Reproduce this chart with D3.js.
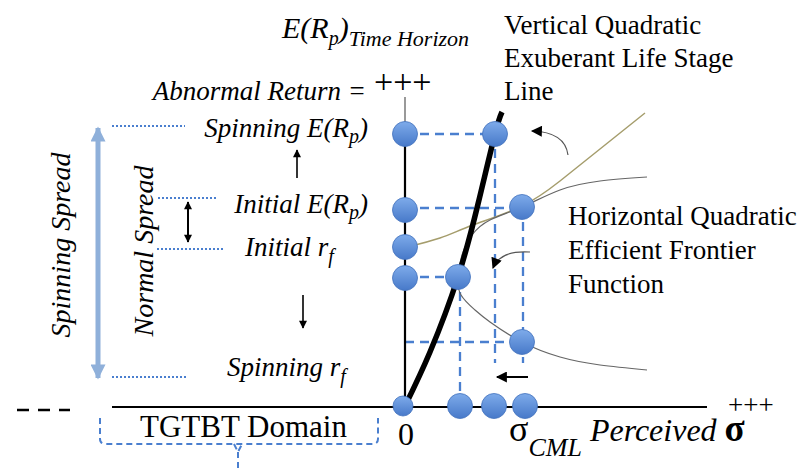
<!DOCTYPE html>
<html>
<head>
<meta charset="utf-8">
<script src="https://cdn.jsdelivr.net/npm/d3@7"></script>
<style>
  body { margin: 0; background: #fff; }
</style>
</head>
<body>
<div id="chart"></div>
<script>
// values; 1 unit = 10px, origin at the axes crossing
const axisPoints = [[0, 27.4], [0, 19.8], [0, 16.1], [0, 13.0]];
const curvePoints = [[9.0, 27.4], [11.7, 20.1], [5.3, 13.1], [11.7, 6.6]];
const sigmaPoints = [5.5, 8.9, 12.0];
const originPoint = [-0.2, 0.2];

const lifeStageLine = [[0, 0.2], [2.5, 5.6], [5.3, 13.1], [7.3, 20.4], [9.0, 27.4], [9.7, 29.6]];
const oliveFrontier = [[0.2, 16.1], [3.5, 17.0], [6.8, 18.3], [11.7, 20.2], [15.5, 22.7], [19.5, 25.9], [24.0, 29.5]];
const frontierUpper = [[24.2, 23.1], [19.5, 22.7], [15.5, 21.8], [11.7, 20.1], [8.5, 18.8], [6.7, 17.3], [5.7, 15.3], [5.3, 13.1]];
const frontierLower = [[5.3, 13.1], [5.6, 11.3], [7.0, 9.8], [8.5, 8.6], [11.7, 6.6], [15.5, 5.1], [19.5, 4.3], [24.2, 3.8]];

const guideLines = [
  [[0, 27.4], [9.0, 27.4]],
  [[9.0, 27.4], [9.0, 4.5]],
  [[0, 20.0], [11.7, 20.0]],
  [[11.8, 18.6], [11.8, 4.5]],
  [[0, 13.1], [5.3, 13.1]],
  [[5.5, 13.1], [5.5, 1.2]],
  [[0, 6.6], [11.7, 6.6]]
];
const dottedLines = [
  [[-29.3, 28.2], [-22.0, 28.2]],
  [[-24.7, 21.0], [-18.7, 21.0]],
  [[-24.8, 15.9], [-18.1, 15.9]],
  [[-29.3, 3.1], [-21.8, 3.1]]
];
const curvedArrows = [
  [[16.3, 25.3], [16.0, 27.6], [12.7, 27.7]],
  [[12.5, 15.6], [9.5, 15.8], [8.8, 14.0]]
];
const straightArrows = [
  [[12.3, 3.1], [9.2, 3.1]],
  [[-10.8, 23.0], [-10.8, 25.8]],
  [[-10.2, 11.3], [-10.2, 8.0]]
];
const normalSpread = [[-21.7, 20.6], [-21.7, 16.6]];
const spinningSpread = [[-30.7, 28.0], [-30.7, 3.0]];
const braceLeft = -30.5, braceRight = -2.7, braceMid = -16.7;

const width = 810, height = 470;
const x = d3.scaleLinear().domain([0, 30]).range([405, 705]);
const y = d3.scaleLinear().domain([0, 30]).range([408, 108]);

const svg = d3.select("#chart").append("svg").attr("width", width).attr("height", height);
const defs = svg.append("defs");

const grad = defs.append("linearGradient").attr("id", "ball").attr("x1", 0).attr("y1", 0).attr("x2", 0).attr("y2", 1);
grad.append("stop").attr("offset", "0%").attr("stop-color", "#7eabea");
grad.append("stop").attr("offset", "100%").attr("stop-color", "#4779c9");

function marker(id, color, w, h) {
  defs.append("marker")
    .attr("id", id)
    .attr("viewBox", "0 0 10 10")
    .attr("refX", 9).attr("refY", 5)
    .attr("markerUnits", "userSpaceOnUse")
    .attr("markerWidth", w).attr("markerHeight", h)
    .attr("orient", "auto-start-reverse")
    .append("path").attr("d", "M0,0 L10,5 L0,10 z").attr("fill", color);
}
marker("head", "#000", 14, 11);
marker("small", "#000", 9, 8);
marker("blue", "#8fb0da", 16, 15);

const line = d3.line().x(d => x(d[0])).y(d => y(d[1]));
const smooth = d3.line().x(d => x(d[0])).y(d => y(d[1])).curve(d3.curveNatural);

// blue dashed guides
svg.append("g").selectAll("path").data(guideLines).join("path")
  .attr("d", line)
  .attr("fill", "none")
  .attr("stroke", "#4a7fcf")
  .attr("stroke-width", 2.3)
  .attr("stroke-dasharray", "9,6");

// blue dotted level markers on the left
svg.append("g").selectAll("path").data(dottedLines).join("path")
  .attr("d", line)
  .attr("fill", "none")
  .attr("stroke", "#4a7fcf")
  .attr("stroke-width", 2)
  .attr("stroke-dasharray", "2,2");

// axes
svg.append("path").attr("d", line([[0, 31.1], [0, 28.5]])).attr("stroke", "#555").attr("stroke-width", 1.2);
svg.append("path").attr("d", line([[0, 28.5], [0, 0]])).attr("stroke", "#000").attr("stroke-width", 2.2);
svg.append("path").attr("d", line([[-29.3, 0.1], [30.2, 0.1]])).attr("stroke", "#000").attr("stroke-width", 2.2);
svg.append("path").attr("d", line([[-38.8, -0.2], [-33.5, -0.2]]))
  .attr("stroke", "#000").attr("stroke-width", 2.5).attr("stroke-dasharray", "12,9");

// frontier curves
svg.append("path").attr("d", smooth(oliveFrontier))
  .attr("fill", "none").attr("stroke", "#a59d6c").attr("stroke-width", 1.5);
svg.append("path").attr("d", smooth(frontierUpper.concat(frontierLower.slice(1))))
  .attr("fill", "none").attr("stroke", "#666").attr("stroke-width", 1.2);

// vertical quadratic life stage line
svg.append("path").attr("d", smooth(lifeStageLine))
  .attr("fill", "none").attr("stroke", "#000").attr("stroke-width", 5.5);

// arrows
svg.append("g").selectAll("path").data(curvedArrows).join("path")
  .attr("d", d => `M${x(d[0][0])},${y(d[0][1])} Q${x(d[1][0])},${y(d[1][1])} ${x(d[2][0])},${y(d[2][1])}`)
  .attr("fill", "none").attr("stroke", "#555").attr("stroke-width", 1.2)
  .attr("marker-end", "url(#head)");
svg.append("path").attr("d", line(straightArrows[0]))
  .attr("stroke", "#000").attr("stroke-width", 2).attr("marker-end", "url(#head)");
svg.append("g").selectAll("path").data(straightArrows.slice(1)).join("path")
  .attr("d", line)
  .attr("stroke", "#000").attr("stroke-width", 1.6).attr("marker-end", "url(#small)");
svg.append("path").attr("d", line(normalSpread))
  .attr("stroke", "#000").attr("stroke-width", 2)
  .attr("marker-start", "url(#small)").attr("marker-end", "url(#small)");
svg.append("path").attr("d", line(spinningSpread))
  .attr("stroke", "#8fb0da").attr("stroke-width", 5)
  .attr("marker-start", "url(#blue)").attr("marker-end", "url(#blue)");

// dashed brace under the TGTBT domain
const b = d3.path();
b.moveTo(x(braceLeft), y(-1.0));
b.lineTo(x(braceLeft), y(-3.1));
b.quadraticCurveTo(x(braceLeft), y(-3.6), x(braceLeft) + 6, y(-3.6));
b.lineTo(x(braceRight) - 6, y(-3.6));
b.quadraticCurveTo(x(braceRight), y(-3.6), x(braceRight), y(-3.1));
b.lineTo(x(braceRight), y(-1.0));
b.moveTo(x(braceMid) - 4, y(-3.6));
b.lineTo(x(braceMid), y(-4.4));
b.lineTo(x(braceMid) + 4, y(-3.6));
b.moveTo(x(braceMid), y(-4.4));
b.lineTo(x(braceMid), y(-6.4));
svg.append("path").attr("d", b.toString())
  .attr("fill", "none").attr("stroke", "#4a7fcf").attr("stroke-width", 2)
  .attr("stroke-dasharray", "6,4");

// blue balls
const balls = axisPoints.concat(curvePoints).map(d => ({p: d, r: 12.5}))
  .concat(sigmaPoints.map(s => ({p: [s, 0.2], r: 12.5})))
  .concat([{p: originPoint, r: 10}]);
svg.append("g").selectAll("circle").data(balls).join("circle")
  .attr("cx", d => x(d.p[0]))
  .attr("cy", d => y(d.p[1]))
  .attr("r", d => d.r)
  .attr("fill", "url(#ball)")
  .attr("stroke", "#4171bd")
  .attr("stroke-width", 0.8);

// text; every tspan gets its own font settings
function label(tx, ty, parts, opts = {}) {
  const t = svg.append("text").attr("x", tx).attr("y", ty)
    .attr("font-family", "Liberation Serif")
    .attr("font-size", opts.size || 27)
    .attr("font-style", opts.italic ? "italic" : "normal")
    .attr("text-anchor", opts.anchor || "start");
  parts.forEach(p => {
    const s = t.append("tspan").text(p.t)
      .attr("font-family", "Liberation Serif")
      .attr("font-size", p.size || opts.size || 27)
      .attr("font-style", p.style || (opts.italic ? "italic" : "normal"))
      .attr("font-weight", p.weight || "normal");
    if (p.dy) s.attr("dy", p.dy);
  });
  return t;
}

label(282, 38, [{t: "E(R"}, {t: "p", size: 20, dy: 7}, {t: ")", dy: -7}, {t: "Time Horizon", size: 22, dy: 8}], {italic: true, size: 30});
label(366, 100, [{t: "Abnormal Return = "}], {italic: true, anchor: "end"});
label(374, 93, [{t: "+++"}], {size: 34});
label(368, 137, [{t: "Spinning E(R"}, {t: "p", size: 20, dy: 6}, {t: ")", dy: -6}], {italic: true, anchor: "end"});
label(368, 213, [{t: "Initial E(R"}, {t: "p", size: 20, dy: 6}, {t: ")", dy: -6}], {italic: true, anchor: "end"});
label(245, 256, [{t: "Initial r"}, {t: "f", size: 20, dy: 7}], {italic: true});
label(227, 376, [{t: "Spinning r"}, {t: "f", size: 20, dy: 7}], {italic: true});

label(0, 0, [{t: "Spinning Spread"}], {italic: true, size: 28, anchor: "middle"})
  .attr("transform", "translate(70,245) rotate(-90)");
label(0, 0, [{t: "Normal Spread"}], {italic: true, size: 28, anchor: "middle"})
  .attr("transform", "translate(153,251) rotate(-90)");

["Vertical Quadratic", "Exuberant Life Stage", "Line"].forEach((s, i) => label(504, 34 + i * 33, [{t: s}]));
["Horizontal Quadratic", "Efficient Frontier", "Function"].forEach((s, i) => label(568, 225 + i * 34, [{t: s}]));

label(140, 437, [{t: "TGTBT Domain"}], {size: 31});
label(398, 445, [{t: "0"}], {size: 32});
label(509, 441, [{t: "σ", size: 36}, {t: "CML", size: 26, dy: 15, style: "italic"},
  {t: " Perceived ", size: 32, dy: -15, style: "italic"}, {t: "σ", size: 37, weight: "bold"}], {size: 32});
label(728, 414, [{t: "+++"}], {size: 27});
</script>
</body>
</html>
